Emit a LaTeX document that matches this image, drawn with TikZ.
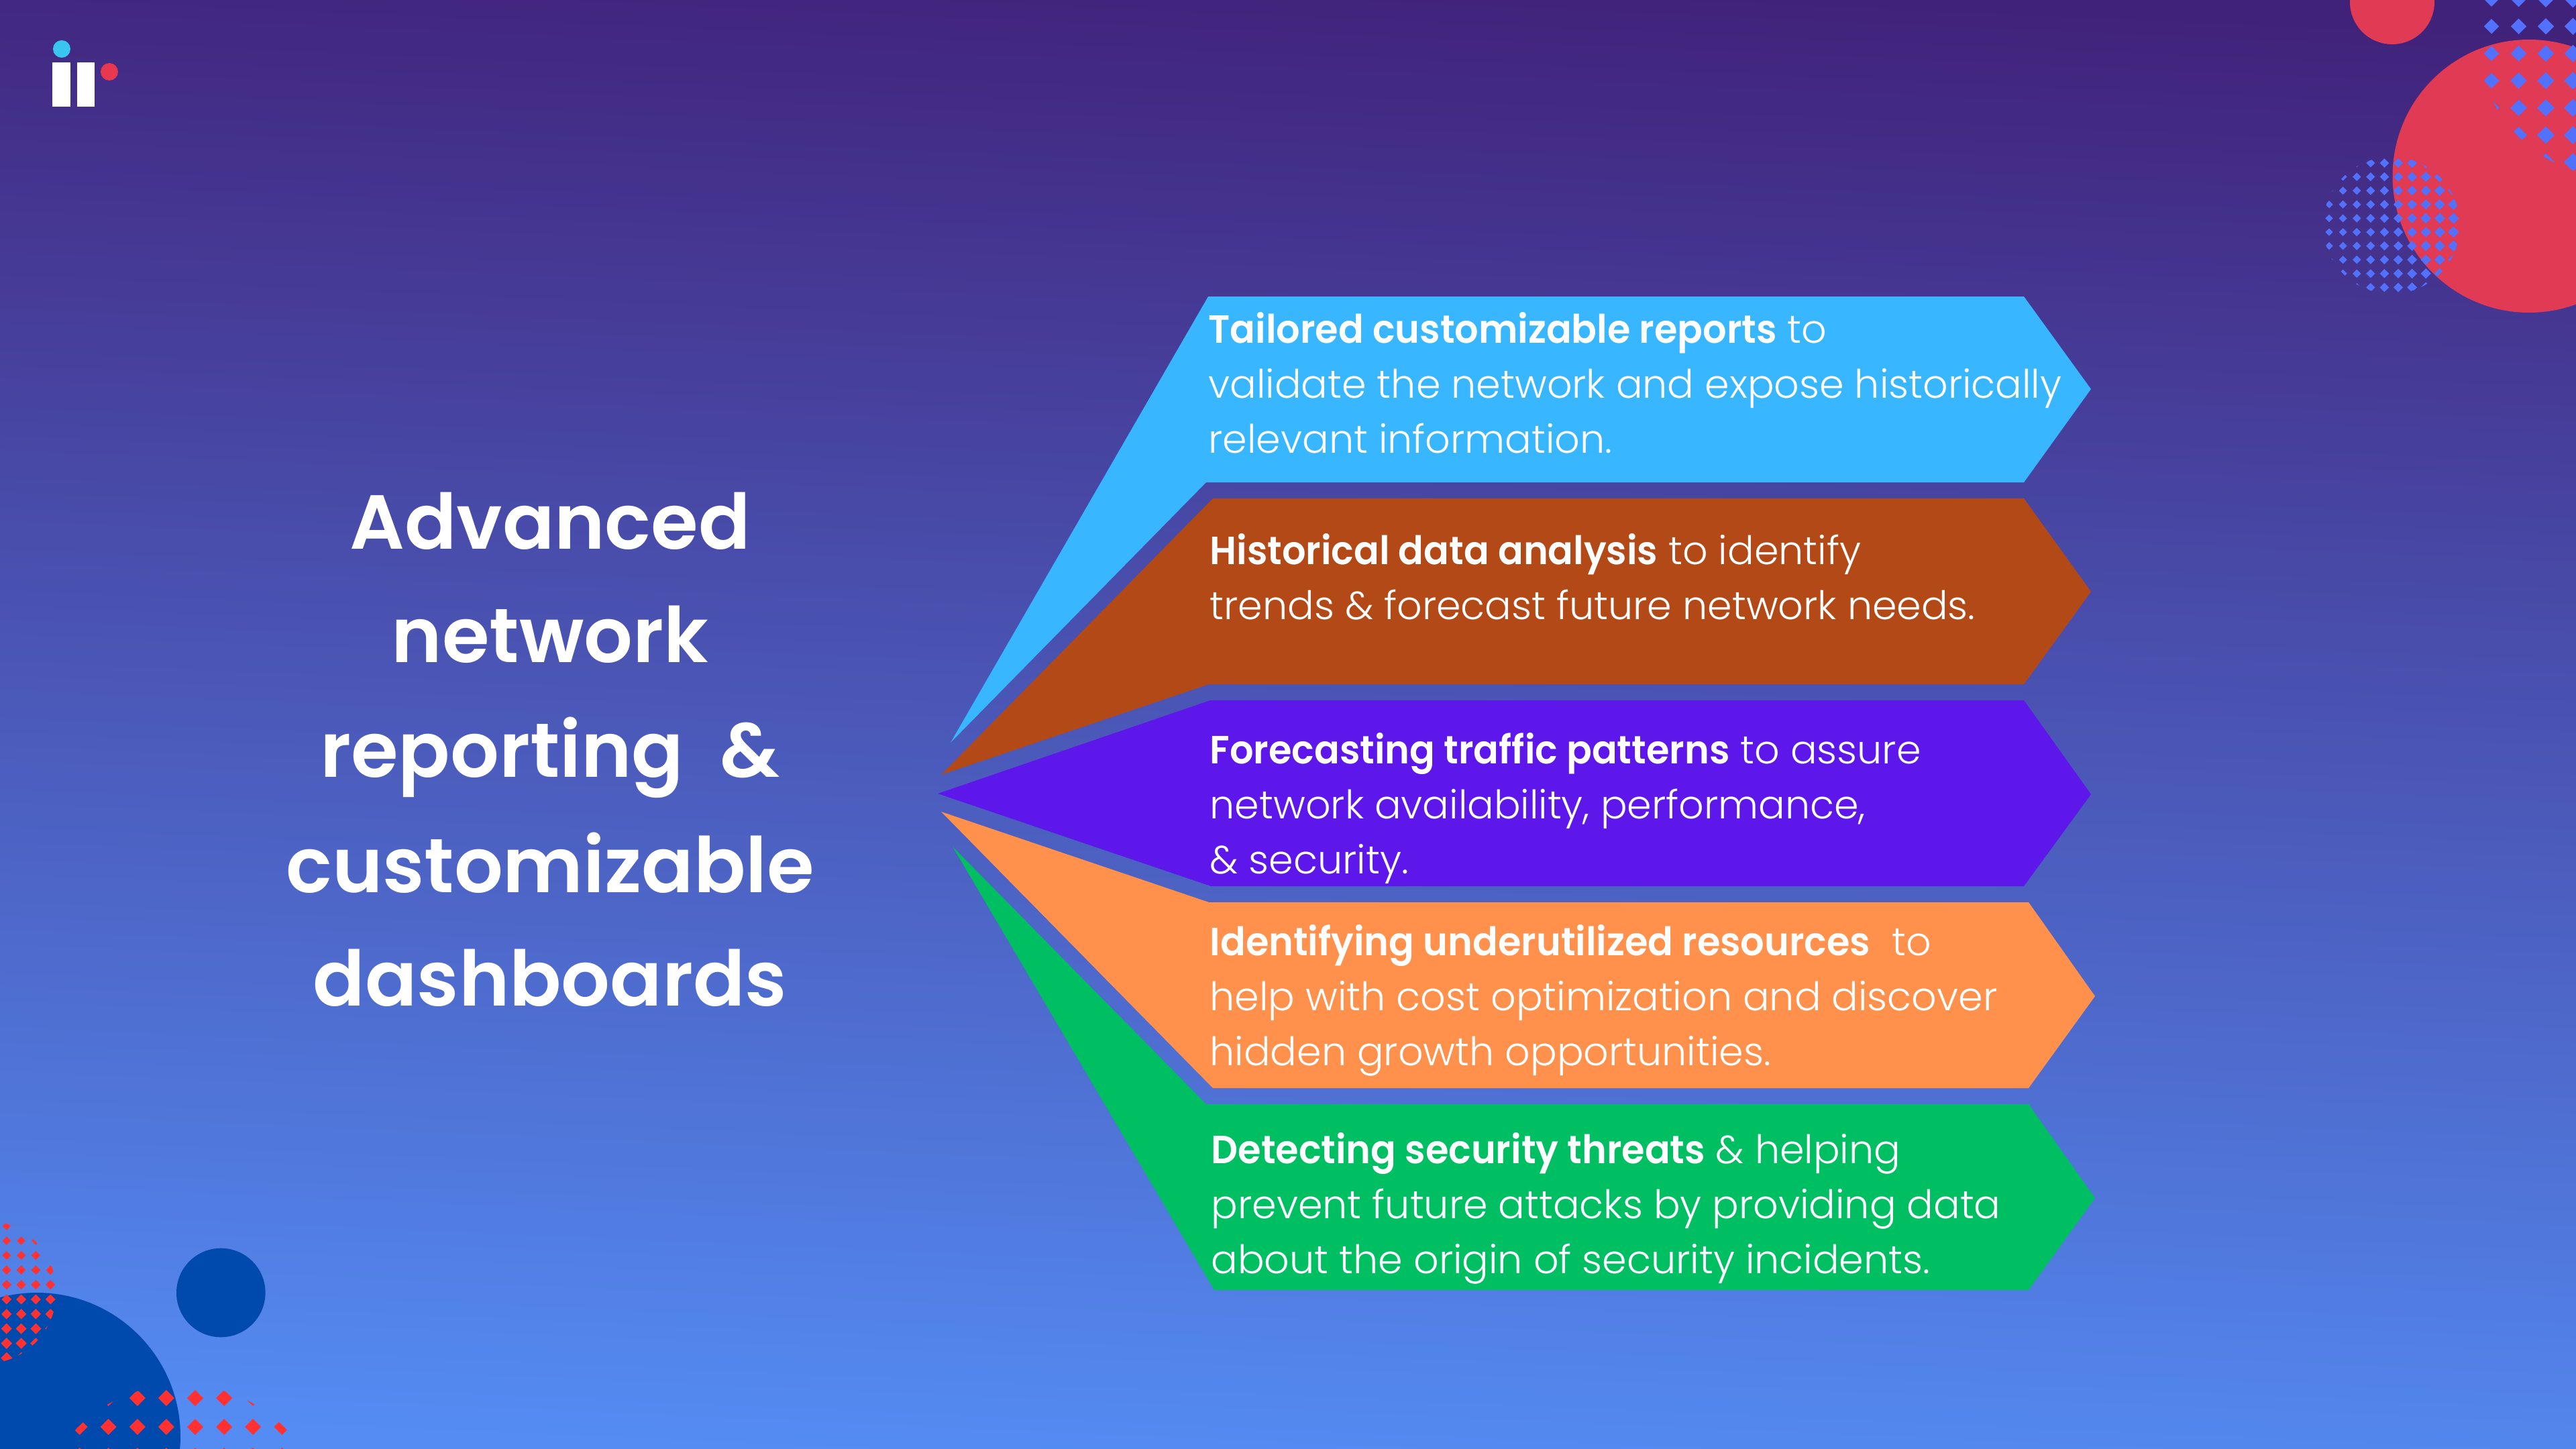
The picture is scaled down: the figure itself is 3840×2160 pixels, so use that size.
\documentclass[tikz,border=0pt]{standalone}
\usepackage{fontspec}
\setmainfont{Poppins}[UprightFont=* Light, BoldFont=* SemiBold, BoldFeatures={FakeStretch=0.95}]
\newfontfamily\titlefont{Poppins SemiBold}
\usepackage{tikz}
\usetikzlibrary{positioning}
\definecolor{bgtop}{RGB}{65,34,122}
\definecolor{bgbot}{RGB}{84,140,243}
\definecolor{skyarrow}{RGB}{56,182,255}
\definecolor{rustarrow}{RGB}{180,73,24}
\definecolor{violetarrow}{RGB}{94,23,235}
\definecolor{peacharrow}{RGB}{255,145,77}
\definecolor{greenarrow}{RGB}{0,191,99}
\definecolor{discred}{RGB}{224,58,85}
\definecolor{discblue}{RGB}{0,74,173}
\definecolor{dotblue}{RGB}{82,113,255}
\definecolor{dotred}{RGB}{255,49,49}
\definecolor{logocyan}{RGB}{56,198,240}
\definecolor{logored}{RGB}{232,56,80}

\begin{document}
\begin{tikzpicture}[
    x=0.1mm, y=-0.1mm,
    bgfill/.style={top color=bgtop, bottom color=bgbot, shading angle=-2.5},
    dots/.style={fill=dotblue},
    reddots/.style={fill=dotred},
    txt/.style={anchor=base west, align=left, inner sep=0pt, text=white,
                font=\fontsize{16.7pt}{23.2pt}\selectfont},
    title/.style={anchor=base, inner sep=0pt, text=white,
                  font=\titlefont\fontsize{32.5pt}{42pt}\selectfont}
]
\useasboundingbox (0,0) rectangle (3840,2160);
\shade[bgfill] (0,0) rectangle (3840,2160);

% Logo
\fill[logocyan] (92,73) circle (13);
\fill[white] (78,93) rectangle (105,159);
\fill[white] (115,93) rectangle (141,159);
\fill[logored] (163,107) circle (13);

% Top right discs and dot patches
\fill[discred] (3566,3) circle (63);
\fill[discred] (3770,262.5) circle (203.5);
\begin{scope}
  \clip (3900,58) circle (206);
  \foreach \col in {0,...,4}
    \foreach \row in {0,...,7} {
      \pgfmathsetmacro{\px}{3714+40.5*\col}
      \pgfmathsetmacro{\py}{-1.2+40.5*\row}
      \pgfmathsetmacro{\ds}{11+0.5*\col+0.2*\row}
      \fill[dots] (\px-\ds,\py) -- (\px,\py-\ds) -- (\px+\ds,\py) -- (\px,\py+\ds) -- cycle;
    }
\end{scope}
\begin{scope}
  \clip (3565,336) circle (102);
  \foreach \col in {0,...,9}
    \foreach \row in {0,...,9} {
      \pgfmathsetmacro{\px}{3472+20.6*\col}
      \pgfmathsetmacro{\py}{243+20.6*\row}
      \pgfmathsetmacro{\ds}{5.7+0.28*\col}
      \fill[dots] (\px-\ds,\py) -- (\px,\py-\ds) -- (\px+\ds,\py) -- (\px,\py+\ds) -- cycle;
    }
\end{scope}

% Bottom left discs and dot patches
\fill[discblue] (329.3,1927) circle (66.3);
\fill[discblue] (55,2141) circle (214);
\begin{scope}
  \clip (-23,1926) circle (107);
  \foreach \col in {0,...,4}
    \foreach \row in {0,...,9} {
      \pgfmathsetmacro{\px}{-12+21.8*\col}
      \pgfmathsetmacro{\py}{1827.7+21.85*\row}
      \pgfmathsetmacro{\ds}{6+0.29*\row}
      \fill[reddots] (\px-\ds,\py) -- (\px,\py-\ds) -- (\px+\ds,\py) -- (\px,\py+\ds) -- cycle;
    }
\end{scope}
\begin{scope}
  \clip (270,2282) circle (218);
  \foreach \col in {0,...,7}
    \foreach \row in {0,1,2} {
      \pgfmathsetmacro{\px}{118.6+43.1*\col}
      \pgfmathsetmacro{\py}{2084+43*\row}
      \fill[reddots] (\px-12,\py) -- (\px,\py-12) -- (\px+12,\py) -- (\px,\py+12) -- cycle;
    }
\end{scope}

% Five arrows fanning out from one point
\fill[skyarrow] (1417,1107) -- (1801,442) -- (3017,442) -- (3117,580) -- (3017,719) -- (1798,719) -- cycle;
\fill[rustarrow] (1403,1155) -- (1808,743) -- (3017,743) -- (3117,882) -- (3017,1020) -- (1802,1020) -- cycle;
\fill[violetarrow] (1398,1183) -- (1804,1044) -- (3017,1044) -- (3117,1184) -- (3017,1321) -- (1805,1321) -- cycle;
\fill[peacharrow] (1403,1210) -- (1802,1345) -- (3024,1345) -- (3123,1485) -- (3024,1622) -- (1808,1622) -- cycle;
\fill[greenarrow] (1420,1262) -- (1798,1646) -- (3024,1646) -- (3123,1786) -- (3024,1923) -- (1810,1923) -- cycle;

% Left heading, one node per line
\node[title] (head1) at (820,818) {Advanced};
\node[title] (head2) at (820,987) {network};
\node[title] (head3) at (820,1158) {reporting \ \&};
\node[title] (head4) at (820,1330) {customizable};
\node[title] (head5) at (820,1499) {dashboards};

% Arrow texts, placed by their last baseline
\node[txt] (tailored) at (1801,675) {\textbf{Tailored customizable reports} to\\validate the network and expose historically\\relevant information.};
\node[txt] (historical) at (1803,923) {\textbf{Historical data analysis} to identify\\trends \& forecast future network needs.};
\node[txt] (forecasting) at (1803,1302) {\textbf{Forecasting traffic patterns} to assure\\network availability, performance,\\\& security.};
\node[txt] (identifying) at (1803,1588) {\textbf{Identifying underutilized resources} \ to\\help with cost optimization and discover\\hidden growth opportunities.};
\node[txt] (detecting) at (1805,1898) {\textbf{Detecting security threats} \& helping\\prevent future attacks by providing data\\about the origin of security incidents.};
\end{tikzpicture}
\end{document}
